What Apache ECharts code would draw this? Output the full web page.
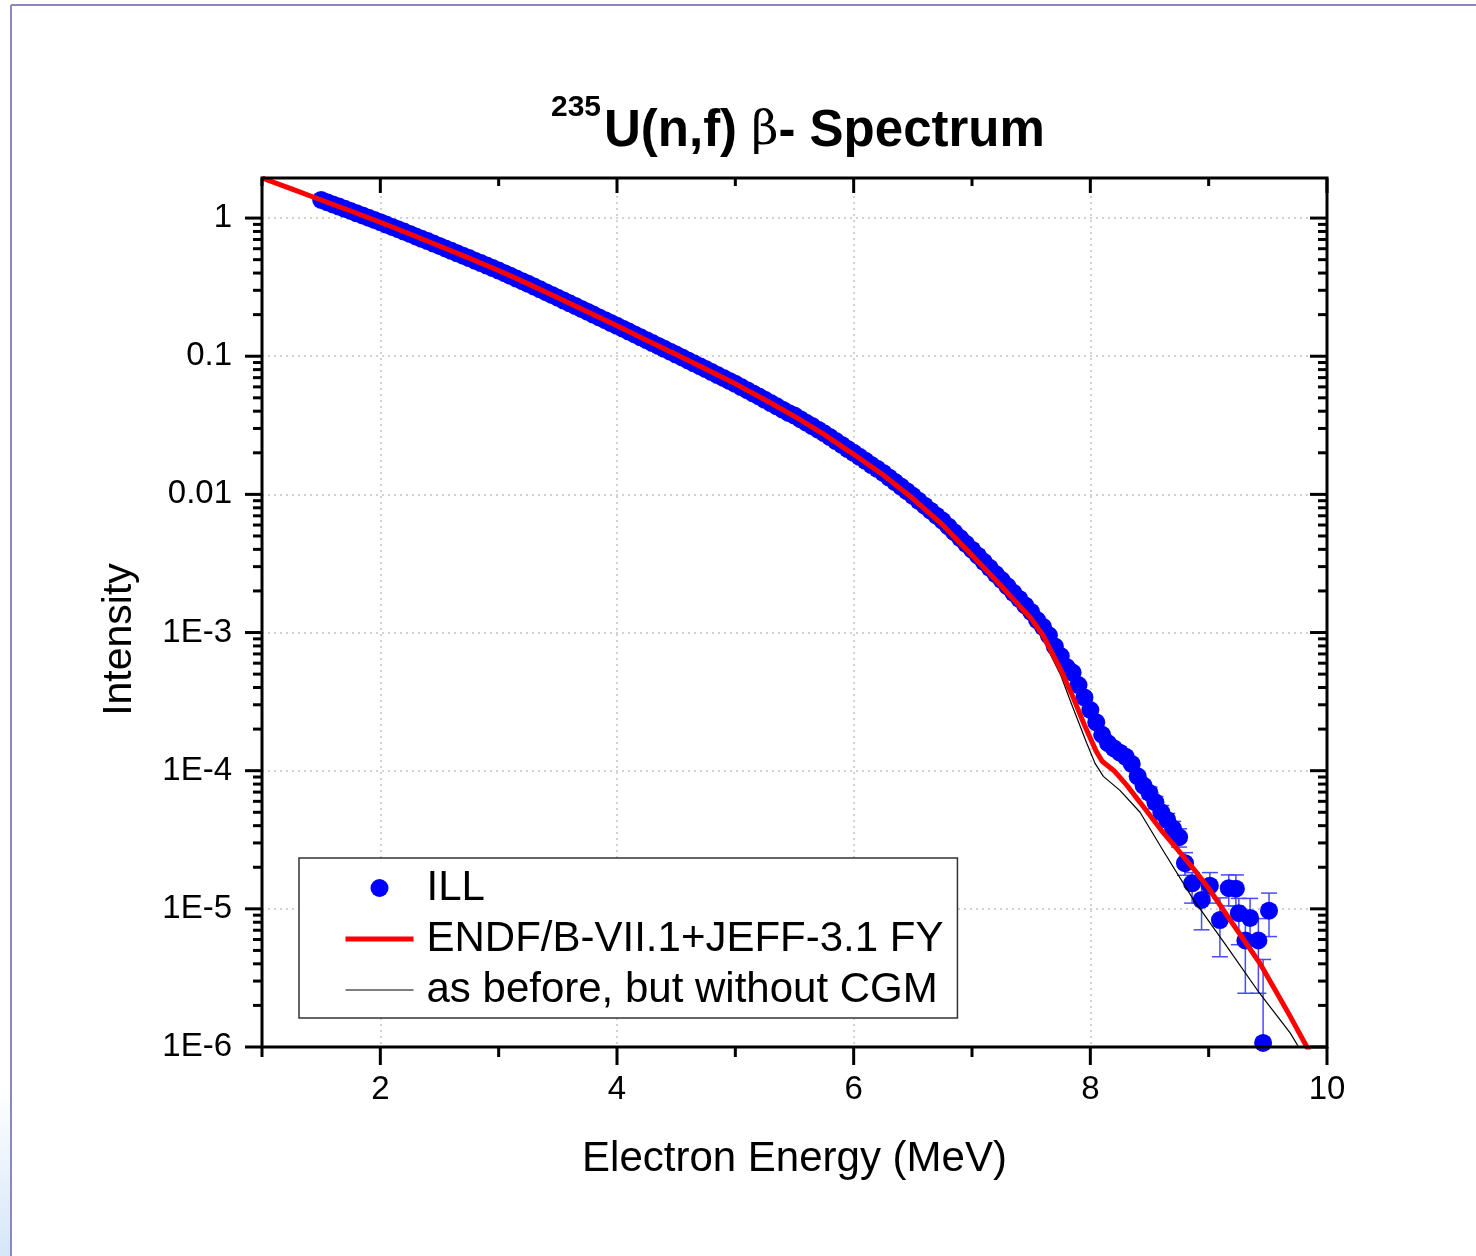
<!DOCTYPE html>
<html>
<head>
<meta charset="utf-8">
<script src="https://cdn.jsdelivr.net/npm/echarts@6/dist/echarts.min.js"></script>
<style>
html,body{margin:0;padding:0;background:#fff;}
#chart{width:1476px;height:1256px;}
</style>
</head>
<body>
<div id="chart"></div>
<script>
// ---------------- DATA ----------------
// ILL measured spectrum (electron energy in MeV, intensity)
const illEnergy = [
  1.5,1.55,1.6,1.65,1.7,1.75,1.8,1.85,1.9,1.95,2.0,2.05,2.1,2.15,2.2,2.25,2.3,2.35,2.4,2.45,
  2.5,2.55,2.6,2.65,2.7,2.75,2.8,2.85,2.9,2.95,3.0,3.05,3.1,3.15,3.2,3.25,3.3,3.35,3.4,3.45,
  3.5,3.55,3.6,3.65,3.7,3.75,3.8,3.85,3.9,3.95,4.0,4.05,4.1,4.15,4.2,4.25,4.3,4.35,4.4,4.45,
  4.5,4.55,4.6,4.65,4.7,4.75,4.8,4.85,4.9,4.95,5.0,5.05,5.1,5.15,5.2,5.25,5.3,5.35,5.4,5.45,
  5.5,5.55,5.6,5.65,5.7,5.75,5.8,5.85,5.9,5.95,6.0,6.05,6.1,6.15,6.2,6.25,6.3,6.35,6.4,6.45,
  6.5,6.55,6.6,6.65,6.7,6.75,6.8,6.85,6.9,6.95,7.0,7.05,7.1,7.15,7.2,7.25,7.3,7.35,7.4,7.45,
  7.5,7.55,7.6,7.65,7.7,7.75,7.8,7.85,7.9,7.95,8.0,8.05,8.1,8.15,8.2,8.25,8.3,8.35,8.4,8.45,
  8.5,8.55,8.6,8.65,8.7,8.75,
  8.80,8.86,8.94,9.01,9.095,9.17,9.23,9.255,9.31,9.35,9.42,9.46,9.51
];
const illIntensity = [
  1.352,1.303,1.256,1.211,1.167,1.125,1.083,1.044,1.006,0.969,0.933,0.897,0.863,0.830,0.798,0.767,0.737,0.708,0.681,0.654,
  0.628,0.603,0.579,0.556,0.534,0.513,0.492,0.472,0.453,0.435,0.417,0.399,0.382,0.365,0.349,0.334,0.319,0.305,0.291,0.278,
  0.265,0.253,0.2416,0.2306,0.220,0.210,0.2002,0.191,0.1823,0.1739,0.166,0.1582,0.1508,0.1437,0.1370,0.1306,0.1245,0.1187,0.1131,0.1078,
  0.1028,0.0980,0.0933,0.0889,0.0847,0.0807,0.0768,0.0731,0.0697,0.0663,0.0631,0.0598,0.0568,0.0538,0.0511,0.0484,0.0458,0.0434,0.0410,0.0389,
  0.0372,0.0350,0.0330,0.0312,0.0294,0.0277,0.0260,0.0243,0.0228,0.0213,0.0200,0.0187,0.0175,0.0163,0.0153,0.0143,0.01324,0.01227,0.01138,0.01054,
  0.00977,0.00899,0.00828,0.00762,0.00701,0.00646,0.00586,0.00532,0.00483,0.00439,0.00398,0.00360,0.00325,0.00294,0.00265,0.00240,0.00216,0.00194,0.00175,0.00157,
  0.00141,0.00123,0.0011,9.55e-4,7.94e-4,6.76e-4,5.62e-4,5.13e-4,4.17e-4,3.39e-4,2.75e-4,2.24e-4,1.82e-4,1.58e-4,1.45e-4,1.35e-4,1.26e-4,1.12e-4,9.1e-5,7.8e-5,
  6.9e-5,5.9e-5,5.0e-5,4.4e-5,3.8e-5,3.3e-5,
  2.14e-5,1.53e-5,1.16e-5,1.47e-5,8.3e-6,1.41e-5,1.40e-5,9.3e-6,5.9e-6,8.6e-6,5.9e-6,1.07e-6,9.7e-6
];
// ILL error bars (energy, lower, upper)
const errEnergy = [8.5,8.55,8.6,8.65,8.7,8.75,8.80,8.86,8.94,9.01,9.095,9.17,9.23,9.255,9.31,9.35,9.42,9.46,9.51];
const errLow  = [6.3e-5,5.3e-5,4.5e-5,3.9e-5,3.3e-5,2.8e-5,1.75e-5,1.1e-5,7.05e-6,1.1e-5,4.5e-6,1.05e-5,1.05e-5,5.5e-6,2.45e-6,5.5e-6,2.45e-6,3e-7,6.3e-6];
const errHigh = [7.6e-5,6.5e-5,5.6e-5,4.9e-5,4.3e-5,3.8e-5,2.55e-5,1.83e-5,1.53e-5,1.83e-5,1.2e-5,1.76e-5,1.76e-5,1.19e-5,8.5e-6,1.19e-5,8.5e-6,4.3e-6,1.3e-5];

// ENDF/B-VII.1 + JEFF-3.1 FY calculation
const endfEnergy = [1.0,1.25,1.5,1.75,2.0,2.25,2.5,2.75,3.0,3.25,3.5,3.75,4.0,4.25,4.5,4.75,5.0,5.25,5.5,5.75,6.0,6.25,6.5,6.75,7.0,7.25,7.5,
  7.6,7.75,7.85,7.95,8.05,8.1,8.2,8.3,8.42,8.6,8.74,8.9,9.0,9.15,9.43,9.69,9.83,9.9];
const endfIntensity = [1.95,1.626,1.352,1.125,0.933,0.767,0.628,0.513,0.417,0.334,0.265,0.210,0.166,0.1306,0.1028,0.0807,0.0631,0.0484,0.0367,0.0272,0.0195,0.0138,0.00933,0.00603,0.00363,0.00216,0.00126,
  9.55e-4,5.37e-4,3.47e-4,2.14e-4,1.38e-4,1.17e-4,1.0e-4,8.0e-5,5.9e-5,3.7e-5,2.67e-5,1.82e-5,1.41e-5,9.1e-6,4.07e-6,1.66e-6,1.0e-6,7.6e-7];

// Same, but without CGM
const noCgmEnergy = [1.0,1.25,1.5,1.75,2.0,2.25,2.5,2.75,3.0,3.25,3.5,3.75,4.0,4.25,4.5,4.75,5.0,5.25,5.5,5.75,6.0,6.25,6.5,6.75,7.0,7.25,7.5,
  7.6,7.75,7.85,7.97,8.04,8.11,8.25,8.42,8.62,8.87,9.15,9.43,9.69,9.76,9.85];
const noCgmIntensity = [1.90,1.585,1.318,1.097,0.910,0.748,0.612,0.500,0.407,0.326,0.258,0.205,0.162,0.1273,0.1002,0.0787,0.0615,0.0472,0.0358,0.0265,0.0190,0.01346,0.0091,0.00588,0.00354,0.00211,0.0012,
  8.9e-4,4.9e-4,2.9e-4,1.58e-4,1.13e-4,9.1e-5,7.2e-5,5.0e-5,2.6e-5,1.17e-5,5.4e-6,2.45e-6,1.26e-6,1.0e-6,7.4e-7];

// Axis ticks
const xMajorTicks = [2,4,6,8,10];
const xMinorTicks = [1,3,5,7,9];
const yMajorTicks = [1e-6,1e-5,1e-4,1e-3,1e-2,1e-1,1];
const yMinorMantissas = [2,3,4,5,6,7,8,9];
const yMinorDecades = [-6,-5,-4,-3,-2,-1];

const seriesNames = ['ILL','ENDF/B-VII.1+JEFF-3.1 FY','as before, but without CGM'];

// ---------------- CHART ----------------
const X_MIN = 1, X_MAX = 10, Y_MIN = 1e-6, Y_MAX = 1.95;
const FONT = "'Liberation Sans', Arial, Helvetica, sans-serif";

const zip = (a, b) => a.map((v, i) => [v, b[i]]);
const errData = errEnergy.map((e, i) => [e, errLow[i], errHigh[i]]);

const tickData = [];
tickData.push([X_MIN, Y_MIN, 2, 0]); // frame
xMajorTicks.forEach(v => tickData.push([v, Y_MIN, 0, 1]));
xMinorTicks.forEach(v => tickData.push([v, Y_MIN, 0, 0]));
yMajorTicks.forEach(v => tickData.push([X_MIN, v, 1, 1]));
yMinorDecades.forEach(d => yMinorMantissas.forEach(m => tickData.push([X_MIN, m * Math.pow(10, d), 1, 0])));

function yLabel(v) {
  const l = Math.log10(v);
  const e = Math.round(l);
  if (Math.abs(l - e) > 0.01) return '';
  if (e === 0) return '1';
  if (e >= -2) return '0.' + '0'.repeat(-e - 1) + '1';
  return '1E' + e;
}

const chart = echarts.init(document.getElementById('chart'), null, {renderer: 'canvas'});

const option = {
  backgroundColor: '#fff',
  animation: false,
  graphic: [
    {type: 'rect', shape: {x: 0, y: 1085, width: 10, height: 171},
     style: {fill: new echarts.graphic.LinearGradient(0, 0, 0, 1, [{offset: 0, color: '#ffffff'}, {offset: 1, color: '#d6e6f7'}])}, z: 0},
    {type: 'line', shape: {x1: 11, y1: 5, x2: 1476, y2: 5}, style: {stroke: '#8c86c4', lineWidth: 2}, z: 0},
    {type: 'line', shape: {x1: 11, y1: 5, x2: 11, y2: 1256}, style: {stroke: '#8c86c4', lineWidth: 2}, z: 0},
    {type: 'text', left: 551, top: 93, z: 10,
     style: {text: '235', font: "bold 30px " + FONT, fill: '#000'}},
    {type: 'text', left: 604, top: 106, z: 10,
     style: {text: '{b|U(n,f) }{g|β}{b|- Spectrum}', fill: '#000',
       rich: {
         b: {fontFamily: FONT, fontWeight: 'bold', fontSize: 51, lineHeight: 58},
         g: {fontFamily: "'DejaVu Serif', serif", fontWeight: 'normal', fontSize: 47, lineHeight: 58}
       }}}
  ],
  grid: {left: 262, top: 178, right: 149, bottom: 209, show: false},
  legend: {
    data: [
      {name: seriesNames[0]},
      {name: seriesNames[1], itemStyle: {opacity: 0}, lineStyle: {width: 5}},
      {name: seriesNames[2], itemStyle: {opacity: 0}, lineStyle: {width: 1.2}}
    ],
    orient: 'vertical', left: 299, top: 858,
    padding: [8, 14, 6, 44], itemGap: 7, itemWidth: 68, itemHeight: 18,
    backgroundColor: '#fff', borderColor: '#333', borderWidth: 1.5,
    selectedMode: false,
    textStyle: {fontFamily: FONT, fontSize: 42, color: '#000', lineHeight: 44, padding: [0, 0, 0, 8]}
  },
  xAxis: {
    type: 'value', min: X_MIN, max: X_MAX, splitNumber: 5,
    name: 'Electron Energy (MeV)', nameLocation: 'middle', nameGap: 91,
    nameTextStyle: {fontFamily: FONT, fontSize: 42, color: '#000'},
    axisLine: {show: false}, axisTick: {show: false},
    axisLabel: {showMinLabel: false, margin: 26, fontFamily: FONT, fontSize: 33, color: '#000',
      formatter: v => (Math.abs(v - Math.round(v)) < 1e-6 && Math.round(v) % 2 === 0) ? String(Math.round(v)) : ''},
    splitLine: {show: true, lineStyle: {color: '#c4c4c4', width: 1.5, type: [2, 4]}}
  },
  yAxis: {
    type: 'log', logBase: 10, min: Y_MIN, max: Y_MAX,
    name: 'Intensity', nameLocation: 'middle', nameGap: 122,
    nameTextStyle: {fontFamily: FONT, fontSize: 41, color: '#000', padding: [0, 54, 0, 0]},
    axisLine: {show: false}, axisTick: {show: false},
    axisLabel: {showMaxLabel: false, margin: 30, fontFamily: FONT, fontSize: 33, color: '#000', formatter: yLabel},
    splitLine: {show: true, lineStyle: {color: '#c4c4c4', width: 1.5, type: [2, 4]}}
  },
  series: [
    {
      name: 'errors', type: 'custom', z: 1, clip: true,
      encode: {x: 0, y: [1, 2]},
      data: errData,
      renderItem: function (params, api) {
        const e = api.value(0);
        const lo = api.coord([e, api.value(1)]);
        const hi = api.coord([e, api.value(2)]);
        const w = 8;
        const st = {stroke: '#4a4aff', lineWidth: 1.5};
        return {type: 'group', children: [
          {type: 'line', shape: {x1: lo[0], y1: lo[1], x2: hi[0], y2: hi[1]}, style: st},
          {type: 'line', shape: {x1: lo[0] - w, y1: lo[1], x2: lo[0] + w, y2: lo[1]}, style: st},
          {type: 'line', shape: {x1: hi[0] - w, y1: hi[1], x2: hi[0] + w, y2: hi[1]}, style: st}
        ]};
      }
    },
    {
      name: seriesNames[0], type: 'scatter', z: 2,
      symbol: 'circle', symbolSize: 18,
      itemStyle: {color: '#0000ff', opacity: 1},
      data: zip(illEnergy, illIntensity)
    },
    {
      name: seriesNames[2], type: 'line', z: 3,
      symbol: 'none', smooth: false,
      lineStyle: {color: '#000', width: 1.2},
      itemStyle: {color: '#000'},
      data: zip(noCgmEnergy, noCgmIntensity)
    },
    {
      name: seriesNames[1], type: 'line', z: 4,
      symbol: 'none', smooth: false,
      lineStyle: {color: '#ff0000', width: 5},
      itemStyle: {color: '#ff0000'},
      data: zip(endfEnergy, endfIntensity)
    },
    {
      name: 'ticks', type: 'custom', z: 6, clip: false, silent: true,
      data: tickData,
      renderItem: function (params, api) {
        const cs = params.coordSys;
        const kind = api.value(2), major = api.value(3);
        const st = {stroke: '#000', lineWidth: 3};
        if (kind === 2) {
          return {type: 'rect', shape: {x: cs.x, y: cs.y, width: cs.width, height: cs.height},
                  style: {fill: null, stroke: '#000', lineWidth: 3}};
        }
        if (kind === 0) {
          const p = api.coord([api.value(0), Y_MIN]);
          const lb = major ? 18 : 10, lt = major ? 15 : 8;
          const yb = cs.y + cs.height, yt = cs.y;
          return {type: 'group', children: [
            {type: 'line', shape: {x1: p[0], y1: yb, x2: p[0], y2: yb + lb}, style: st},
            {type: 'line', shape: {x1: p[0], y1: yt, x2: p[0], y2: yt + lt}, style: st}
          ]};
        } else {
          const p = api.coord([X_MIN, api.value(1)]);
          const l = major ? 17 : 9;
          const xl = cs.x, xr = cs.x + cs.width;
          return {type: 'group', children: [
            {type: 'line', shape: {x1: xl - l, y1: p[1], x2: xl, y2: p[1]}, style: st},
            {type: 'line', shape: {x1: xr - l, y1: p[1], x2: xr, y2: p[1]}, style: st}
          ]};
        }
      }
    }
  ]
};
chart.setOption(option);
</script>
</body>
</html>
